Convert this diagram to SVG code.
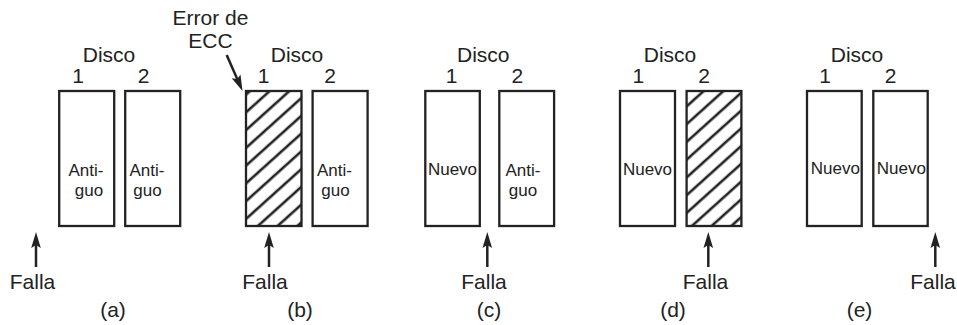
<svg xmlns="http://www.w3.org/2000/svg" width="957" height="325" viewBox="0 0 957 325">
<style>
text{font-family:"Liberation Sans",Arial,sans-serif;fill:#222;text-anchor:middle}
.lb{font-size:21px}
.in{font-size:17px}
.box{fill:#fff;stroke:#222;stroke-width:2.3}
.hat{fill:url(#hatch);stroke:#222;stroke-width:2.3}
.arr{stroke:#222;stroke-width:2.5;fill:none;marker-end:url(#ah)}
</style>
<defs>
<pattern id="hatch" patternUnits="userSpaceOnUse" width="40" height="13.2" patternTransform="rotate(-42)">
<rect width="40" height="13.2" fill="#fff"/>
<line x1="0" y1="10.5" x2="40" y2="10.5" stroke="#222" stroke-width="2.4"/>
</pattern>
<marker id="ah" markerUnits="userSpaceOnUse" markerWidth="16" markerHeight="12" refX="5" refY="6" orient="auto">
<path d="M0,1.2 L16,6 L0,10.8 L3,6 Z" fill="#222"/>
</marker>
</defs>

<g id="panel-a">
<text class="lb" x="109" y="62">Disco</text>
<text class="lb" x="78" y="83">1</text>
<text class="lb" x="143.5" y="83">2</text>
<g id="a-disk1"><rect class="box" x="59.2" y="91" width="55" height="135"/><text class="in" x="86" y="176">Anti-</text><text class="in" x="89" y="196">guo</text></g>
<g id="a-disk2"><rect class="box" x="125.2" y="91" width="55" height="135"/><text class="in" x="147" y="176">Anti-</text><text class="in" x="147.5" y="196">guo</text></g>
<text class="lb" x="32.5" y="289">Falla</text>
<text class="lb" x="113" y="317">(a)</text>
</g>

<g id="panel-b">
<text class="lb" x="210.5" y="25">Error de</text>
<text class="lb" x="210.5" y="48">ECC</text>
<text class="lb" x="297" y="62">Disco</text>
<text class="lb" x="263.5" y="83">1</text>
<text class="lb" x="330" y="83">2</text>
<g id="b-disk1"><rect class="hat" x="246" y="91" width="55.5" height="135"/></g>
<g id="b-disk2"><rect class="box" x="312.6" y="91" width="55" height="135"/><text class="in" x="334.5" y="176">Anti-</text><text class="in" x="335.5" y="196">guo</text></g>
<text class="lb" x="265" y="289">Falla</text>
<text class="lb" x="300" y="317">(b)</text>
</g>

<g id="panel-c">
<text class="lb" x="483.3" y="62">Disco</text>
<text class="lb" x="451.7" y="83">1</text>
<text class="lb" x="517.3" y="83">2</text>
<g id="c-disk1"><rect class="box" x="425.3" y="91" width="54.5" height="135"/><text class="in" x="452.5" y="175">Nuevo</text></g>
<g id="c-disk2"><rect class="box" x="499.3" y="91" width="54.8" height="135"/><text class="in" x="523" y="176">Anti-</text><text class="in" x="523" y="196">guo</text></g>
<text class="lb" x="484" y="289">Falla</text>
<text class="lb" x="489" y="317">(c)</text>
</g>

<g id="panel-d">
<text class="lb" x="670" y="62">Disco</text>
<text class="lb" x="638.3" y="83">1</text>
<text class="lb" x="704" y="83">2</text>
<g id="d-disk1"><rect class="box" x="620" y="91" width="55" height="135"/><text class="in" x="647.5" y="174.5">Nuevo</text></g>
<g id="d-disk2"><rect class="hat" x="686.6" y="91" width="54.8" height="135"/></g>
<text class="lb" x="705.5" y="289">Falla</text>
<text class="lb" x="673" y="317">(d)</text>
</g>

<g id="panel-e">
<text class="lb" x="857" y="62">Disco</text>
<text class="lb" x="825" y="83">1</text>
<text class="lb" x="890.7" y="83">2</text>
<g id="e-disk1"><rect class="box" x="807" y="91" width="54.7" height="135"/><text class="in" x="835.3" y="174">Nuevo</text></g>
<g id="e-disk2"><rect class="box" x="873.3" y="91" width="54.4" height="135"/><text class="in" x="901.3" y="174">Nuevo</text></g>
<text class="lb" x="933" y="289">Falla</text>
<text class="lb" x="859.5" y="317">(e)</text>
</g>

<g id="connectors">
<line class="arr" x1="226.7" y1="55" x2="238.1" y2="80.9"/>
<line class="arr" x1="36" y1="267" x2="36" y2="243"/>
<line class="arr" x1="269" y1="267" x2="269" y2="243"/>
<line class="arr" x1="487.3" y1="267" x2="487.3" y2="243"/>
<line class="arr" x1="708.3" y1="267" x2="708.3" y2="243"/>
<line class="arr" x1="935.3" y1="267" x2="935.3" y2="243"/>
</g>
</svg>
